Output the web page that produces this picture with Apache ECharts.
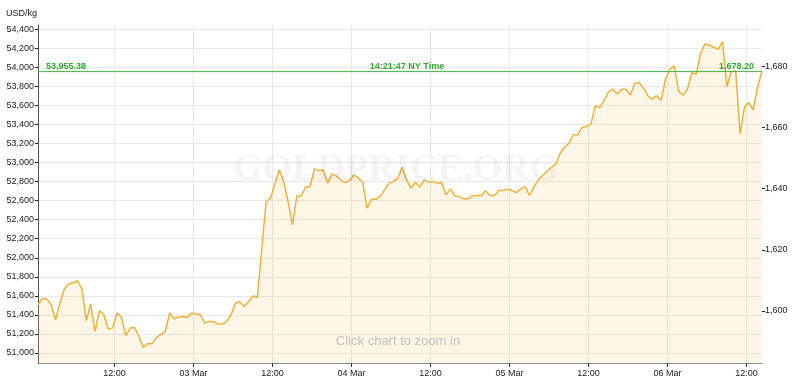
<!DOCTYPE html>
<html><head><meta charset="utf-8">
<script src="https://cdn.jsdelivr.net/npm/echarts@6/dist/echarts.min.js"></script>
<style>html,body{margin:0;padding:0;background:#fff}#c{width:800px;height:391px}</style>
</head><body><div id="c"></div>
<script>
// Gold price, USD per kg, one sample every 40 minutes
const prices = [
  51507, 51573, 51567, 51507, 51349, 51525, 51672, 51727, 51735, 51759,
  51672, 51339, 51514, 51227, 51447, 51402, 51252, 51262, 51420, 51378,
  51182, 51262, 51269, 51174, 51059, 51098, 51098, 51164, 51192, 51227,
  51420, 51360, 51378, 51384, 51374, 51420, 51409, 51402, 51315, 51332,
  51332, 51304, 51304, 51332, 51402, 51525, 51538, 51489, 51541, 51601,
  51583, 52100, 52591, 52626, 52784, 52923, 52800, 52591, 52346, 52650,
  52650, 52742, 52748, 52934, 52916, 52923, 52784, 52881, 52860, 52818,
  52790, 52811, 52871, 52839, 52794, 52521, 52616, 52616, 52650, 52713,
  52784, 52800, 52836, 52951, 52818, 52731, 52794, 52742, 52818, 52794,
  52800, 52784, 52790, 52661, 52724, 52650, 52643, 52619, 52619, 52650,
  52654, 52654, 52703, 52654, 52654, 52706, 52706, 52724, 52706, 52685,
  52721, 52748, 52654, 52742, 52818, 52864, 52906, 52951, 52983, 53098,
  53161, 53203, 53291, 53291, 53372, 53378, 53403, 53595, 53577, 53651,
  53739, 53773, 53721, 53770, 53770, 53710, 53833, 53840, 53781, 53700,
  53665, 53703, 53651, 53875, 53980, 54015, 53745, 53710, 53770, 53944,
  53927, 54148, 54246, 54235, 54211, 54190, 54270, 53797, 53955, 53965,
  53301, 53581, 53630, 53553, 53797, 53955.38
];
const startTime = Date.UTC(2020, 2, 2, 0, 21, 47);
const stepMinutes = 40;

const leftTicks = [51000, 51200, 51400, 51600, 51800, 52000, 52200, 52400, 52600,
  52800, 53000, 53200, 53400, 53600, 53800, 54000, 54200, 54400];
const rightTicks = [1600, 1620, 1640, 1660, 1680];
const xTickLabels = ['12:00', '03 Mar', '12:00', '04 Mar', '12:00', '05 Mar', '12:00', '06 Mar', '12:00'];
const xTickStart = Date.UTC(2020, 2, 2, 12, 0, 0);
const xTickStepHours = 12;

const currentPrice = 53955.38;
const currentPriceOz = 1678.20;
const timeLabel = '14:21:47 NY Time';
const unitLabel = 'USD/kg';
const OZ_PER_KG = 32.1507466;
const yMin = 50895, yMax = 54445;

const HOUR = 3600 * 1000;
const seriesData = prices.map((v, i) => [startTime + i * stepMinutes * 60 * 1000, v]);
const endTime = seriesData[seriesData.length - 1][0];
const xTickTimes = xTickLabels.map((_, k) => xTickStart + k * xTickStepHours * HOUR);
const fmt = (v, d) => v.toLocaleString('en-US', {minimumFractionDigits: d, maximumFractionDigits: d});

const FONT = 'Liberation Sans';
const GREEN = '#3fb53f';
const chart = echarts.init(document.getElementById('c'), null, {renderer: 'canvas'});
chart.setOption({
  animation: false,
  backgroundColor: '#ffffff',
  grid: {left: 38, right: 38, top: 25, bottom: 28, containLabel: false},
  xAxis: {
    type: 'value',
    min: startTime,
    max: endTime,
    axisLine: {show: true, lineStyle: {color: '#8a8a8a', width: 1}},
    axisTick: {show: true, length: 4, lineStyle: {color: '#333'}, customValues: xTickTimes},
    axisLabel: {
      customValues: xTickTimes,
      color: '#222', fontFamily: FONT, fontSize: 9, margin: 6,
      formatter: (v) => {
        const k = Math.round((v - xTickStart) / (xTickStepHours * HOUR));
        return xTickLabels[k] || '';
      }
    },
    splitLine: {show: true, lineStyle: {color: '#e8e8e8', width: 1}}
  },
  yAxis: [{
    type: 'value',
    min: yMin, max: yMax,
    name: unitLabel,
    nameLocation: 'end',
    nameGap: 7,
    nameTextStyle: {color: '#222', fontFamily: FONT, fontSize: 9, align: 'right', padding: [0, 1, 0, 0]},
    axisLine: {show: true, lineStyle: {color: '#555', width: 1}},
    axisTick: {show: true, length: 3, inside: false, lineStyle: {color: '#222'}, customValues: leftTicks},
    axisLabel: {customValues: leftTicks, color: '#222', fontFamily: FONT, fontSize: 9, margin: 4,
      formatter: (v) => fmt(v, 0)},
    splitLine: {show: true, lineStyle: {color: '#e8e8e8', width: 1}}
  }, {
    type: 'value',
    position: 'right',
    min: yMin / OZ_PER_KG, max: yMax / OZ_PER_KG,
    axisLine: {show: false},
    axisTick: {show: true, length: 3, lineStyle: {color: '#222'}, customValues: rightTicks},
    axisLabel: {customValues: rightTicks, color: '#222', fontFamily: FONT, fontSize: 9, margin: 3,
      formatter: (v) => fmt(v, 0)},
    splitLine: {show: false}
  }],
  graphic: [{
    type: 'text', x: 396, y: 170, z: 100, silent: true,
    style: {text: 'GOLDPRICE.ORG', font: 'bold 38px "Liberation Serif"', fill: 'rgba(0,0,0,0.045)',
      textAlign: 'center', textVerticalAlign: 'middle'}
  }, {
    type: 'text', x: 398, y: 341, z: 100, silent: true,
    style: {text: 'Click chart to zoom in', font: '13px "Liberation Sans"', fill: '#c2c0bc',
      textAlign: 'center', textVerticalAlign: 'middle'}
  }],
  series: [{
    type: 'line',
    data: seriesData,
    showSymbol: false,
    symbol: 'none',
    lineStyle: {color: '#f0b13a', width: 1.5},
    itemStyle: {color: '#f0b13a'},
    areaStyle: {color: 'rgba(246,196,90,0.2)', origin: 'start'},
    z: 2
  }, {
    type: 'line',
    name: 'current',
    data: [[startTime, currentPrice], [endTime, currentPrice]],
    showSymbol: false,
    symbol: 'none',
    silent: true,
    z: 3,
    lineStyle: {color: GREEN, width: 1, type: 'solid'},
    itemStyle: {color: GREEN},
    markLine: {
      silent: true, symbol: 'none', animation: false,
      label: {color: '#2eaa2e', fontFamily: FONT, fontSize: 9, fontWeight: 'bold', distance: [8, 1]},
      lineStyle: {color: 'rgba(0,0,0,0)', width: 1, type: 'solid'},
      data: [
        {yAxis: currentPrice, label: {position: 'insideStartTop', formatter: fmt(currentPrice, 2)}},
        {yAxis: currentPrice, label: {position: 'insideMiddleTop', formatter: timeLabel, offset: [7, 0]}},
        {yAxis: currentPrice, label: {position: 'insideEndTop', formatter: fmt(currentPriceOz, 2)}}
      ]
    }
  }]
});
</script>
</body></html>
